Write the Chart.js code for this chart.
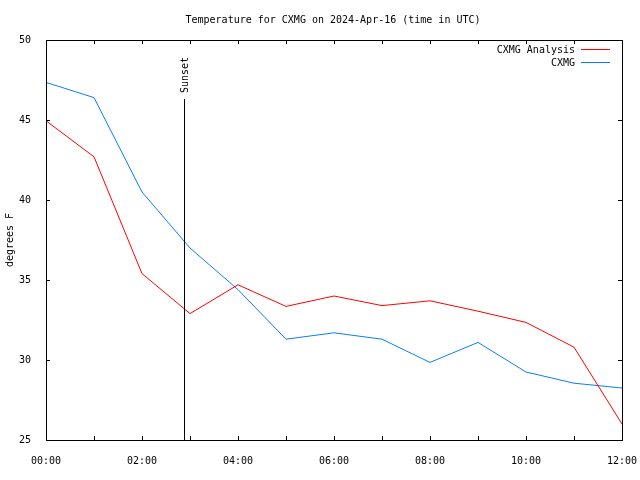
<!DOCTYPE html>
<html>
<head>
<meta charset="utf-8">
<script src="https://cdn.jsdelivr.net/npm/chart.js@4"></script>
<style>
  body { margin: 0; background: #fff; }
</style>
</head>
<body>
<canvas id="tempChart" width="640" height="480"></canvas>
<script>
    // hours after 00:00 UTC
    var hours = [0, 1, 2, 3, 4, 5, 6, 7, 8, 9, 10, 11, 12];
    var analysisTemps = [44.95, 42.7, 35.4, 32.9, 34.7, 33.35, 34.0, 33.4, 33.7, 33.05, 32.35, 30.8, 26.0];
    var stationTemps = [47.35, 46.4, 40.5, 37.0, 34.4, 31.3, 31.7, 31.3, 29.85, 31.1, 29.25, 28.55, 28.25];
    var seriesNames = ['CXMG Analysis', 'CXMG'];
    var yTicks = [25, 30, 35, 40, 45, 50];
    var sunsetHour = 2.875;

    var monoFont = '10px "DejaVu Sans Mono", "Liberation Mono", monospace';
    var redColor = '#ff0000';
    var blueColor = '#0a7cff';

    function toPoints(values) {
        return hours.map((h, i) => ({ x: h, y: values[i] }));
    }

    function pad2(n) {
        return (n < 10 ? '0' : '') + n;
    }

    // frame, inside ticks, sunset marker, title and key like gnuplot draws them
    var gnuplotBits = {
        id: 'gnuplotBits',
        afterDraw(chart) {
            var ctx = chart.ctx;
            var area = chart.chartArea;
            var xs = chart.scales.x;
            var ys = chart.scales.y;
            ctx.save();
            ctx.strokeStyle = '#000';
            ctx.lineWidth = 1;

            // border
            ctx.strokeRect(Math.round(area.left) + 0.5, Math.round(area.top) + 0.5,
                Math.round(area.right - area.left), Math.round(area.bottom - area.top));

            // ticks, drawn inwards and mirrored
            ctx.beginPath();
            hours.forEach(h => {
                var px = Math.round(xs.getPixelForValue(h)) + 0.5;
                ctx.moveTo(px, area.bottom);
                ctx.lineTo(px, area.bottom - 4);
                ctx.moveTo(px, area.top);
                ctx.lineTo(px, area.top + 4);
            });
            yTicks.forEach(v => {
                var py = Math.round(ys.getPixelForValue(v)) + 0.5;
                ctx.moveTo(area.left, py);
                ctx.lineTo(area.left + 4, py);
                ctx.moveTo(area.right, py);
                ctx.lineTo(area.right - 4, py);
            });
            ctx.stroke();

            // sunset line
            var sx = Math.round(xs.getPixelForValue(sunsetHour)) + 0.5;
            ctx.beginPath();
            ctx.moveTo(sx, area.bottom);
            ctx.lineTo(sx, 99);
            ctx.stroke();

            ctx.fillStyle = '#000';
            ctx.font = monoFont;

            ctx.save();
            ctx.translate(sx + 1, 93);
            ctx.rotate(-Math.PI / 2);
            ctx.textAlign = 'left';
            ctx.textBaseline = 'middle';
            ctx.fillText('Sunset', 0, 0);
            ctx.restore();

            // title
            ctx.textAlign = 'center';
            ctx.textBaseline = 'middle';
            ctx.fillText('Temperature for CXMG on 2024-Apr-16 (time in UTC)', 333, 20);

            // y axis name
            ctx.save();
            ctx.translate(10, 240);
            ctx.rotate(-Math.PI / 2);
            ctx.fillText('degrees F', 0, 0);
            ctx.restore();

            // key
            var keyColors = [redColor, blueColor];
            ctx.textAlign = 'right';
            seriesNames.forEach((name, i) => {
                var ky = 50 + i * 13;
                ctx.fillStyle = '#000';
                ctx.fillText(name, 575, ky);
                ctx.strokeStyle = keyColors[i];
                ctx.beginPath();
                ctx.moveTo(581, ky - 0.5);
                ctx.lineTo(610, ky - 0.5);
                ctx.stroke();
            });
            ctx.restore();
        }
    };

    var ctx = document.getElementById('tempChart').getContext('2d');

    var tempChart = new Chart(ctx, {
        type: 'line',
        data: {
            datasets: [{
                label: seriesNames[0],
                data: toPoints(analysisTemps),
                borderColor: redColor,
                borderWidth: 1,
                pointRadius: 0,
                tension: 0
            }, {
                label: seriesNames[1],
                data: toPoints(stationTemps),
                borderColor: blueColor,
                borderWidth: 1,
                pointRadius: 0,
                tension: 0
            }]
        },
        options: {
            responsive: false,
            animation: false,
            layout: {
                padding: { top: 40, right: 18, left: 0, bottom: 0 }
            },
            scales: {
                x: {
                    type: 'linear',
                    min: 0,
                    max: 12,
                    afterFit: s => {
                        s.height = 40;
                        // let the 12:00 label hang past the frame like gnuplot
                        s.paddingLeft = 0;
                        s.paddingRight = 0;
                    },
                    grid: { display: false },
                    border: { display: false },
                    ticks: {
                        stepSize: 2,
                        padding: 7,
                        maxRotation: 0,
                        color: '#000',
                        font: { family: '"DejaVu Sans Mono", monospace', size: 10 },
                        callback: v => pad2(v) + ':00'
                    }
                },
                y: {
                    min: 25,
                    max: 50,
                    afterFit: s => { s.width = 46; },
                    grid: { display: false },
                    border: { display: false },
                    ticks: {
                        stepSize: 5,
                        padding: 7,
                        color: '#000',
                        font: { family: '"DejaVu Sans Mono", monospace', size: 10 }
                    }
                }
            },
            plugins: {
                legend: { display: false },
                tooltip: { enabled: false }
            }
        },
        plugins: [gnuplotBits]
    });
</script>
</body>
</html>
